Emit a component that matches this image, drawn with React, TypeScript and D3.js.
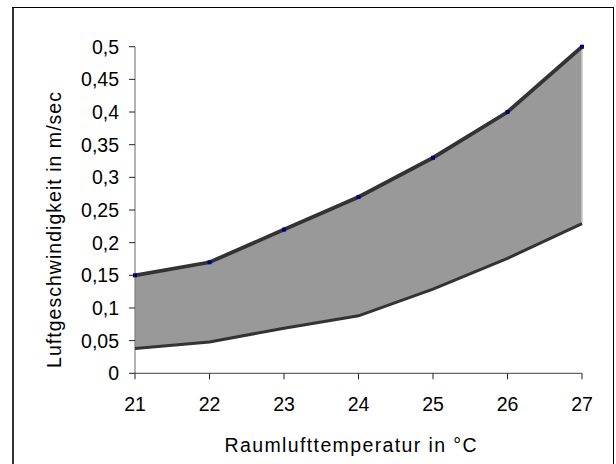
import React, { useEffect, useRef } from "react";
import * as d3 from "d3";

const temperatures = [21, 22, 23, 24, 25, 26, 27];
const upperValues = [0.15, 0.17, 0.22, 0.27, 0.33, 0.4, 0.5];
const lowerValues = [0.038, 0.048, 0.069, 0.088, 0.129, 0.176, 0.229];
const yTickValues = [0, 0.05, 0.1, 0.15, 0.2, 0.25, 0.3, 0.35, 0.4, 0.45, 0.5];
const xTitle = "Raumlufttemperatur in °C";
const yTitle = "Luftgeschwindigkeit in m/sec";

const W = 616;
const H = 464;

export default function App() {
  const ref = useRef<SVGSVGElement | null>(null);

  useEffect(() => {
    const svg = d3.select(ref.current);
    svg.selectAll("*").remove();

    const x = d3.scalePoint<number>().domain(temperatures).range([135, 582]);
    const y = d3.scaleLinear().domain([0, 0.5]).range([373.3, 46.7]);
    const font = "'Liberation Sans', Arial, sans-serif";

    // frame
    svg.append("line").attr("x1", 13).attr("x2", 13).attr("y1", 7).attr("y2", H + 5)
      .attr("stroke", "#333").attr("stroke-width", 2);
    svg.append("line").attr("x1", 12).attr("x2", 613.5).attr("y1", 7.5).attr("y2", 7.5)
      .attr("stroke", "#000").attr("stroke-width", 1);
    svg.append("line").attr("x1", 613.5).attr("x2", 613.5).attr("y1", 7).attr("y2", H + 5)
      .attr("stroke", "#000").attr("stroke-width", 1);

    const data = temperatures.map((t, i) => ({ t, lo: lowerValues[i], hi: upperValues[i] }));

    const area = d3.area<any>()
      .x((d) => x(d.t)!)
      .y0((d) => y(d.lo))
      .y1((d) => y(d.hi));
    svg.append("path").datum(data).attr("d", area).attr("fill", "#999999");

    // right edge of area
    svg.append("line")
      .attr("x1", x(27)!).attr("x2", x(27)!)
      .attr("y1", y(upperValues[6])).attr("y2", y(lowerValues[6]))
      .attr("stroke", "#c8c8c8").attr("stroke-width", 1.5);

    // axes
    const g = svg.append("g");
    g.append("line").attr("x1", 135).attr("x2", 135).attr("y1", y(0.5)).attr("y2", y(0))
      .attr("stroke", "#808080").attr("stroke-width", 1.2);
    g.append("line").attr("x1", 135).attr("x2", 582).attr("y1", y(0)).attr("y2", y(0))
      .attr("stroke", "#666").attr("stroke-width", 1.2);

    yTickValues.forEach((v) => {
      g.append("line").attr("x1", 129).attr("x2", 135).attr("y1", y(v)).attr("y2", y(v))
        .attr("stroke", "#222").attr("stroke-width", 1);
      g.append("text").attr("x", 119).attr("y", y(v)).attr("dy", "0.36em")
        .attr("text-anchor", "end")
        .style("font-family", font).style("font-size", "19.5px")
        .attr("fill", "#000").text(String(v).replace(".", ","));
    });
    temperatures.forEach((t) => {
      g.append("line").attr("x1", x(t)!).attr("x2", x(t)!).attr("y1", y(0)).attr("y2", y(0) + 6)
        .attr("stroke", "#222").attr("stroke-width", 1);
      g.append("text").attr("x", x(t)!).attr("y", 410.5)
        .attr("text-anchor", "middle")
        .style("font-family", font).style("font-size", "19.5px")
        .attr("fill", "#000").text(String(t));
    });

    // lines
    const lineHi = d3.line<any>().x((d) => x(d.t)!).y((d) => y(d.hi));
    const lineLo = d3.line<any>().x((d) => x(d.t)!).y((d) => y(d.lo));
    svg.append("path").datum(data).attr("d", lineLo).attr("fill", "none")
      .attr("stroke", "#333").attr("stroke-width", 3);
    svg.append("path").datum(data).attr("d", lineHi).attr("fill", "none")
      .attr("stroke", "#333").attr("stroke-width", 3.8);

    svg.selectAll("rect.m").data(data).enter().append("rect")
      .attr("class", "m")
      .attr("x", (d) => x(d.t)! - 2).attr("y", (d) => y(d.hi) - 2)
      .attr("width", 4).attr("height", 4).attr("fill", "#000080");

    // titles
    svg.append("text").attr("x", 350.5).attr("y", 452)
      .attr("text-anchor", "middle")
      .style("font-family", font).style("font-size", "19.5px")
      .attr("textLength", 252).attr("lengthAdjust", "spacing")
      .attr("fill", "#000").text(xTitle);
    svg.append("text")
      .attr("transform", "translate(61,230) rotate(-90)")
      .attr("text-anchor", "middle")
      .style("font-family", font).style("font-size", "19.5px")
      .attr("textLength", 276).attr("lengthAdjust", "spacing")
      .attr("fill", "#000").text(yTitle);
  }, []);

  return (
    <svg
      ref={ref}
      width={W}
      height={H}
      style={{ position: "absolute", left: 0, top: 0, background: "#fff" }}
    />
  );
}
